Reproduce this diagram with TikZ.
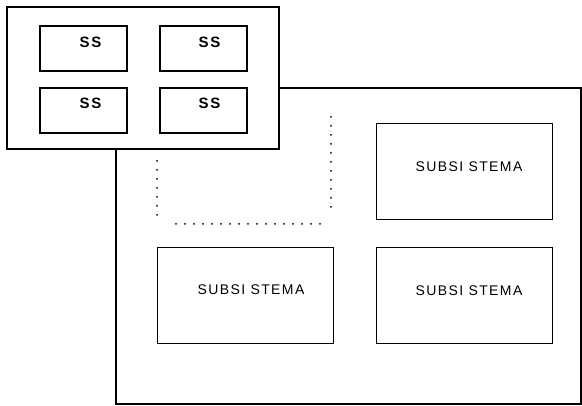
\documentclass[tikz,border=0pt]{standalone}
\usepackage{fontspec}
\newfontfamily\rotulo[LetterSpace=10]{Liberation Sans}
\usetikzlibrary{positioning}

\begin{document}
\begin{tikzpicture}[
		x=1pt, y=-1pt,
		% Estilos de cajas
		sistema_box/.style={draw=black, fill=white, line width=1.3pt, rectangle, inner sep=0pt},
		ss_box/.style={draw=black, fill=white, line width=1.1pt, rectangle, minimum width=87pt, minimum height=45pt, inner sep=0pt},
		subsis_box/.style={draw=black, fill=white, line width=1pt, rectangle, minimum width=176pt, minimum height=96pt, inner sep=0pt},
		% Estilo de textos
		texto_ss/.style={font=\rotulo\bfseries\fontsize{15}{15}\selectfont},
		texto_sub/.style={font=\rotulo\fontsize{14}{14}\selectfont},
		% Estilo del contorno punteado
		punteado/.style={line width=2pt, line cap=round, dash pattern=on 0pt off 9pt}
		]
		
		% Marco de la imagen
		\useasboundingbox (0,0) rectangle (582,406);
		
		% --- SISTEMA GRANDE ---
		\node[sistema_box, minimum width=465pt, minimum height=316pt] (grande) at (348.5,246) {};
		
		% Subsistemas del sistema grande
		\node[subsis_box, label={[texto_sub, xshift=5pt, yshift=5pt]center:SUBSI STEMA}] (sub_a) at (464,172) {};
		\node[subsis_box, label={[texto_sub, xshift=6pt, yshift=6pt]center:SUBSI STEMA}] (sub_b) at (245,296) {};
		\node[subsis_box, label={[texto_sub, xshift=5pt, yshift=5pt]center:SUBSI STEMA}] (sub_c) at (464,296) {};
		
		% Contorno punteado (esquina oculta bajo el sistema pequeño)
		\coordinate (pt_a) at (331,117);
		\coordinate (pt_b) at (331,215);
		\coordinate (pt_c) at (320,224);
		\coordinate (pt_d) at (168,224);
		\coordinate (pt_e) at (157,215);
		\coordinate (pt_f) at (157,160);
		\draw[punteado] (pt_a) -- (pt_b);
		\draw[punteado] (pt_c) -- (pt_d);
		\draw[punteado] (pt_e) -- (pt_f);
		
		% --- SISTEMA PEQUEÑO (encima) ---
		\node[sistema_box, minimum width=272pt, minimum height=142pt] (pequeno) at (143,78) {};
		
		% Subsistemas SS
		\node[ss_box, label={[texto_ss, xshift=7pt, yshift=6pt]center:SS}] (ss_a) at (83.5,48.5) {};
		\node[ss_box, label={[texto_ss, xshift=6pt, yshift=6pt]center:SS}] (ss_b) at (203.5,48.5) {};
		\node[ss_box, label={[texto_ss, xshift=7pt, yshift=7pt]center:SS}] (ss_c) at (83.5,110.5) {};
		\node[ss_box, label={[texto_ss, xshift=6pt, yshift=7pt]center:SS}] (ss_d) at (203.5,110.5) {};
		
	\end{tikzpicture}
\end{document}
